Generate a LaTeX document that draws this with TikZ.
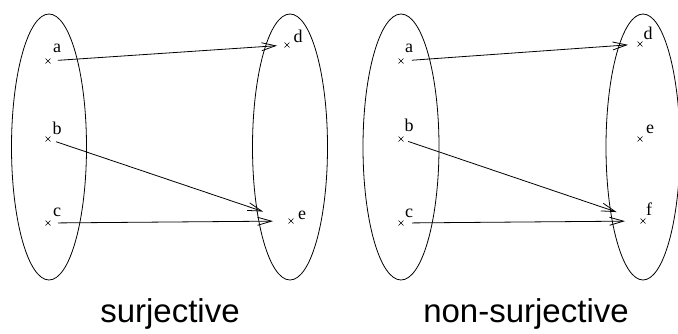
\documentclass[tikz,border=0pt]{standalone}
\usepackage{fontspec}
\setmainfont{Liberation Serif}
\newfontfamily\labelsans{Liberation Sans}
\usetikzlibrary{arrows.meta}
\begin{document}
\begin{tikzpicture}[x=1pt,y=-1pt,
  setline/.style={line width=0.8pt},
  maparrow/.style={line width=0.8pt,-{Straight Barb[length=14pt,width=8pt,line width=0.8pt]}},
  ptlabel/.style={anchor=base,inner sep=0pt,font=\fontsize{18}{18}\selectfont},
  caption/.style={anchor=base,inner sep=0pt,font=\labelsans\fontsize{33}{33}\selectfont}]
\useasboundingbox (0,0) rectangle (678,333);
% sets
\draw[setline] (49,147) ellipse [x radius=37.5, y radius=133];
\draw[setline] (290,147) ellipse [x radius=37.5, y radius=133];
\draw[setline] (401,147) ellipse [x radius=38, y radius=133];
\draw[setline] (643,147) ellipse [x radius=37, y radius=133];
% points, left diagram
\coordinate (la) at (48,61);
\coordinate (lb) at (48,139);
\coordinate (lc) at (48,223);
\coordinate (ld) at (287,45);
\coordinate (le) at (291,221);
% points, right diagram
\coordinate (ra) at (401,61);
\coordinate (rb) at (401,139);
\coordinate (rc) at (401,223);
\coordinate (rd) at (640,44);
\coordinate (re) at (640,139);
\coordinate (rf) at (643,221);
% crosses
\foreach \p in {la,lb,lc,ld,le,ra,rb,rc,rd,re,rf}{
  \draw[line width=0.6pt] ([shift={(-2.5,-2.5)}]\p) -- ([shift={(2.5,2.5)}]\p)
                          ([shift={(-2.5,2.5)}]\p) -- ([shift={(2.5,-2.5)}]\p);
}
% labels
\node[ptlabel] (tla) at (57,52) {a};
\node[ptlabel] (tlb) at (57,134) {b};
\node[ptlabel] (tlc) at (57,216) {c};
\node[ptlabel] (tld) at (298,42) {d};
\node[ptlabel] (tle) at (302,219) {e};
\node[ptlabel] (tra) at (409,52) {a};
\node[ptlabel] (trb) at (409,131) {b};
\node[ptlabel] (trc) at (409,217) {c};
\node[ptlabel] (trd) at (648,39) {d};
\node[ptlabel] (tre) at (650,133) {e};
\node[ptlabel] (trf) at (649,215) {f};
% arrows
\draw[maparrow,shorten <=10pt,shorten >=10pt] (la) -- (ld);
\draw[maparrow,shorten <=8.5pt,shorten >=29.5pt] (lb) -- (le);
\draw[maparrow,shorten <=10pt,shorten >=18pt] (lc) -- (le);
\draw[maparrow,shorten <=11pt,shorten >=12pt] (ra) -- (rd);
\draw[maparrow,shorten <=7.6pt,shorten >=27.8pt] (rb) -- (rf);
\draw[maparrow,shorten <=11pt,shorten >=18pt] (rc) -- (rf);
% captions
\node[caption] (capl) at (170,322) {surjective};
\node[caption] (capr) at (526,322) {non-surjective};
\end{tikzpicture}
\end{document}
